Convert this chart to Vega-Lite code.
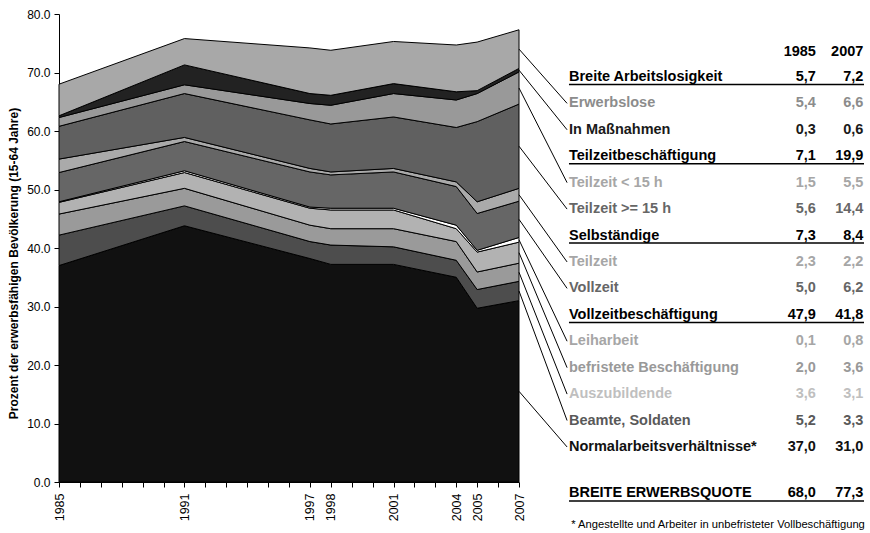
{
  "$schema": "https://vega.github.io/schema/vega-lite/v6.json",
  "width": 460,
  "height": 468,
  "autosize": {"type": "none"},
  "padding": {"left": 59, "top": 14, "right": 351, "bottom": 51},
  "background": "white",
  "config": {
    "font": "Liberation Sans",
    "view": {"stroke": null},
    "axis": {"labelFont": "Liberation Sans", "titleFont": "Liberation Sans", "labelColor": "#000", "titleColor": "#000", "domainColor": "#000", "tickColor": "#000", "grid": false, "domainWidth": 1, "tickWidth": 1, "labelFontSize": 12, "tickSize": 5, "labelPadding": 4, "labelOverlap": false},
    "axisX": {"labelOverlap": false, "labelFlush": false},
    "text": {"font": "Liberation Sans", "fontWeight": "bold", "fontSize": 14.5}
  },
  "datasets": {
    "series": [
      {"year": 1985, "cat": "Normalarbeitsverhältnisse*", "value": 37.0},
      {"year": 1991, "cat": "Normalarbeitsverhältnisse*", "value": 43.8},
      {"year": 1997, "cat": "Normalarbeitsverhältnisse*", "value": 38.2},
      {"year": 1998, "cat": "Normalarbeitsverhältnisse*", "value": 37.2},
      {"year": 2001, "cat": "Normalarbeitsverhältnisse*", "value": 37.2},
      {"year": 2004, "cat": "Normalarbeitsverhältnisse*", "value": 35.0},
      {"year": 2005, "cat": "Normalarbeitsverhältnisse*", "value": 29.7},
      {"year": 2007, "cat": "Normalarbeitsverhältnisse*", "value": 31.0},
      {"year": 1985, "cat": "Beamte, Soldaten", "value": 5.2},
      {"year": 1991, "cat": "Beamte, Soldaten", "value": 3.4},
      {"year": 1997, "cat": "Beamte, Soldaten", "value": 2.9},
      {"year": 1998, "cat": "Beamte, Soldaten", "value": 3.3},
      {"year": 2001, "cat": "Beamte, Soldaten", "value": 3.0},
      {"year": 2004, "cat": "Beamte, Soldaten", "value": 2.9},
      {"year": 2005, "cat": "Beamte, Soldaten", "value": 3.2},
      {"year": 2007, "cat": "Beamte, Soldaten", "value": 3.3},
      {"year": 1985, "cat": "Auszubildende", "value": 3.6},
      {"year": 1991, "cat": "Auszubildende", "value": 3.0},
      {"year": 1997, "cat": "Auszubildende", "value": 2.8},
      {"year": 1998, "cat": "Auszubildende", "value": 2.8},
      {"year": 2001, "cat": "Auszubildende", "value": 3.1},
      {"year": 2004, "cat": "Auszubildende", "value": 3.2},
      {"year": 2005, "cat": "Auszubildende", "value": 3.0},
      {"year": 2007, "cat": "Auszubildende", "value": 3.1},
      {"year": 1985, "cat": "befristete Beschäftigung", "value": 2.0},
      {"year": 1991, "cat": "befristete Beschäftigung", "value": 2.7},
      {"year": 1997, "cat": "befristete Beschäftigung", "value": 2.9},
      {"year": 1998, "cat": "befristete Beschäftigung", "value": 3.2},
      {"year": 2001, "cat": "befristete Beschäftigung", "value": 3.2},
      {"year": 2004, "cat": "befristete Beschäftigung", "value": 2.2},
      {"year": 2005, "cat": "befristete Beschäftigung", "value": 3.4},
      {"year": 2007, "cat": "befristete Beschäftigung", "value": 3.6},
      {"year": 1985, "cat": "Leiharbeit", "value": 0.1},
      {"year": 1991, "cat": "Leiharbeit", "value": 0.3},
      {"year": 1997, "cat": "Leiharbeit", "value": 0.2},
      {"year": 1998, "cat": "Leiharbeit", "value": 0.3},
      {"year": 2001, "cat": "Leiharbeit", "value": 0.3},
      {"year": 2004, "cat": "Leiharbeit", "value": 0.6},
      {"year": 2005, "cat": "Leiharbeit", "value": 0.3},
      {"year": 2007, "cat": "Leiharbeit", "value": 0.8},
      {"year": 1985, "cat": "Vollzeit", "value": 5.0},
      {"year": 1991, "cat": "Vollzeit", "value": 5.0},
      {"year": 1997, "cat": "Vollzeit", "value": 6.0},
      {"year": 1998, "cat": "Vollzeit", "value": 5.7},
      {"year": 2001, "cat": "Vollzeit", "value": 6.2},
      {"year": 2004, "cat": "Vollzeit", "value": 6.6},
      {"year": 2005, "cat": "Vollzeit", "value": 6.3},
      {"year": 2007, "cat": "Vollzeit", "value": 6.2},
      {"year": 1985, "cat": "Teilzeit", "value": 2.3},
      {"year": 1991, "cat": "Teilzeit", "value": 0.7},
      {"year": 1997, "cat": "Teilzeit", "value": 0.6},
      {"year": 1998, "cat": "Teilzeit", "value": 0.5},
      {"year": 2001, "cat": "Teilzeit", "value": 0.6},
      {"year": 2004, "cat": "Teilzeit", "value": 0.8},
      {"year": 2005, "cat": "Teilzeit", "value": 2.0},
      {"year": 2007, "cat": "Teilzeit", "value": 2.2},
      {"year": 1985, "cat": "Teilzeit >= 15 h", "value": 5.6},
      {"year": 1991, "cat": "Teilzeit >= 15 h", "value": 7.5},
      {"year": 1997, "cat": "Teilzeit >= 15 h", "value": 8.3},
      {"year": 1998, "cat": "Teilzeit >= 15 h", "value": 8.2},
      {"year": 2001, "cat": "Teilzeit >= 15 h", "value": 8.8},
      {"year": 2004, "cat": "Teilzeit >= 15 h", "value": 9.3},
      {"year": 2005, "cat": "Teilzeit >= 15 h", "value": 13.7},
      {"year": 2007, "cat": "Teilzeit >= 15 h", "value": 14.4},
      {"year": 1985, "cat": "Teilzeit < 15 h", "value": 1.5},
      {"year": 1991, "cat": "Teilzeit < 15 h", "value": 1.5},
      {"year": 1997, "cat": "Teilzeit < 15 h", "value": 2.8},
      {"year": 1998, "cat": "Teilzeit < 15 h", "value": 3.2},
      {"year": 2001, "cat": "Teilzeit < 15 h", "value": 4.0},
      {"year": 2004, "cat": "Teilzeit < 15 h", "value": 4.7},
      {"year": 2005, "cat": "Teilzeit < 15 h", "value": 4.8},
      {"year": 2007, "cat": "Teilzeit < 15 h", "value": 5.5},
      {"year": 1985, "cat": "In Maßnahmen", "value": 0.3},
      {"year": 1991, "cat": "In Maßnahmen", "value": 3.4},
      {"year": 1997, "cat": "In Maßnahmen", "value": 1.7},
      {"year": 1998, "cat": "In Maßnahmen", "value": 1.7},
      {"year": 2001, "cat": "In Maßnahmen", "value": 1.7},
      {"year": 2004, "cat": "In Maßnahmen", "value": 1.4},
      {"year": 2005, "cat": "In Maßnahmen", "value": 0.5},
      {"year": 2007, "cat": "In Maßnahmen", "value": 0.6},
      {"year": 1985, "cat": "Erwerbslose", "value": 5.4},
      {"year": 1991, "cat": "Erwerbslose", "value": 4.5},
      {"year": 1997, "cat": "Erwerbslose", "value": 7.8},
      {"year": 1998, "cat": "Erwerbslose", "value": 7.7},
      {"year": 2001, "cat": "Erwerbslose", "value": 7.2},
      {"year": 2004, "cat": "Erwerbslose", "value": 8.0},
      {"year": 2005, "cat": "Erwerbslose", "value": 8.3},
      {"year": 2007, "cat": "Erwerbslose", "value": 6.6}
    ],
    "table": [
      {"label": "Breite Arbeitslosigkeit", "level": "sum", "row": 1, "v85": 5.7, "v07": 7.2},
      {"label": "Erwerbslose", "level": "part", "row": 2, "v85": 5.4, "v07": 6.6},
      {"label": "In Maßnahmen", "level": "part", "row": 3, "v85": 0.3, "v07": 0.6},
      {"label": "Teilzeitbeschäftigung", "level": "sum", "row": 4, "v85": 7.1, "v07": 19.9},
      {"label": "Teilzeit < 15 h", "level": "part", "row": 5, "v85": 1.5, "v07": 5.5},
      {"label": "Teilzeit >= 15 h", "level": "part", "row": 6, "v85": 5.6, "v07": 14.4},
      {"label": "Selbständige", "level": "sum", "row": 7, "v85": 7.3, "v07": 8.4},
      {"label": "Teilzeit", "level": "part", "row": 8, "v85": 2.3, "v07": 2.2},
      {"label": "Vollzeit", "level": "part", "row": 9, "v85": 5.0, "v07": 6.2},
      {"label": "Vollzeitbeschäftigung", "level": "sum", "row": 10, "v85": 47.9, "v07": 41.8},
      {"label": "Leiharbeit", "level": "part", "row": 11, "v85": 0.1, "v07": 0.8},
      {"label": "befristete Beschäftigung", "level": "part", "row": 12, "v85": 2.0, "v07": 3.6},
      {"label": "Auszubildende", "level": "part", "row": 13, "v85": 3.6, "v07": 3.1},
      {"label": "Beamte, Soldaten", "level": "part", "row": 14, "v85": 5.2, "v07": 3.3},
      {"label": "Normalarbeitsverhältnisse*", "level": "part", "row": 15, "v85": 37.0, "v07": 31.0},
      {"label": "BREITE ERWERBSQUOTE", "level": "total", "row": 16.76, "v85": 68.0, "v07": 77.3}
    ]
  },
  "layer": [
    {
      "data": {"name": "series"},
      "transform": [
        {"lookup": "cat", "from": {"data": {"name": "table"}, "key": "label", "fields": ["row"]}}
      ],
      "mark": {"type": "area", "stroke": "#000", "strokeWidth": 1, "opacity": 1},
      "encoding": {
        "x": {"field": "year", "type": "quantitative",
          "scale": {"domain": [1985, 2007], "nice": false, "zero": false},
          "axis": {"title": "", "values": [1985,1986,1987,1988,1989,1990,1991,1992,1993,1994,1995,1996,1997,1998,1999,2000,2001,2002,2003,2004,2005,2006,2007],
            "tickCount": 100, "format": "d", "labelAngle": 270, "labelOverlap": false, "labelFlush": false, "labelPadding": 6, "labelFontSize": 12.5,
            "labelExpr": "indexof([1985,1991,1997,1998,2001,2004,2005,2007], datum.value) >= 0 ? datum.label : ''"}},
        "y": {"field": "value", "type": "quantitative", "stack": "zero",
          "scale": {"domain": [0, 80], "nice": false},
          "axis": {"title": "Prozent der erwerbsfähigen Bevölkerung (15-64 Jahre)", "values": [0,10,20,30,40,50,60,70,80], "tickCount": 20, "format": ".1f",
            "titleFontSize": 12, "titleFontWeight": "bold", "titlePadding": 6, "titleY": 249, "labelOverlap": false}},
        "color": {"field": "cat", "type": "nominal", "legend": null,
          "scale": {"domain": ["Normalarbeitsverhältnisse*", "Beamte, Soldaten", "Auszubildende", "befristete Beschäftigung", "Leiharbeit", "Vollzeit", "Teilzeit", "Teilzeit >= 15 h", "Teilzeit < 15 h", "In Maßnahmen", "Erwerbslose"],
            "range": ["#111111", "#4d4d4d", "#9a9a9a", "#b2b2b2", "#ffffff", "#666666", "#aaaaaa", "#606060", "#999999", "#222222", "#a8a8a8"]}},
        "order": {"field": "row", "sort": "descending"}
      }
    },
    {
      "data": {"name": "series"},
      "transform": [
        {"filter": "datum.year == 2007"},
        {"lookup": "cat", "from": {"data": {"name": "table"}, "key": "label", "fields": ["row"]}},
        {"stack": "value", "groupby": ["year"], "sort": [{"field": "row", "order": "descending"}], "as": ["s0", "s1"]},
        {"calculate": "(datum.s0 + datum.s1) / 2", "as": "mid"},
        {"calculate": "73.76 - 4.518 * datum.row", "as": "yt"}
      ],
      "mark": {"type": "rule", "color": "#000", "strokeWidth": 1},
      "encoding": {
        "x": {"datum": 2007, "type": "quantitative"},
        "x2": {"datum": 2009.3},
        "y": {"field": "mid", "type": "quantitative"},
        "y2": {"field": "yt"}
      }
    },
    {
      "data": {"name": "table"},
      "transform": [
        {"filter": "datum.level != 'part'"},
        {"calculate": "73.76 - 4.518 * datum.row - 1.3", "as": "yu"}
      ],
      "mark": {"type": "rule", "color": "#000", "strokeWidth": 1.5},
      "encoding": {
        "x": {"datum": 2009.39, "type": "quantitative"},
        "x2": {"datum": 2023.5},
        "y": {"field": "yu", "type": "quantitative"}
      }
    },
    {
      "data": {"name": "table"},
      "transform": [
        {"calculate": "73.76 - 4.518 * datum.row", "as": "yt"},
        {"calculate": "replace(format(datum.v85, '.1f'), '.', ',')", "as": "t85"},
        {"calculate": "replace(format(datum.v07, '.1f'), '.', ',')", "as": "t07"}
      ],
      "encoding": {
        "y": {"field": "yt", "type": "quantitative"},
        "color": {"field": "label", "type": "nominal", "legend": null,
          "scale": {"domain": ["Breite Arbeitslosigkeit", "Erwerbslose", "In Maßnahmen", "Teilzeitbeschäftigung", "Teilzeit < 15 h", "Teilzeit >= 15 h", "Selbständige", "Teilzeit", "Vollzeit", "Vollzeitbeschäftigung", "Leiharbeit", "befristete Beschäftigung", "Auszubildende", "Beamte, Soldaten", "Normalarbeitsverhältnisse*", "BREITE ERWERBSQUOTE"],
            "range": ["#000000", "#8c8c8c", "#1a1a1a", "#000000", "#a6a6a6", "#666666", "#000000", "#a6a6a6", "#666666", "#000000", "#a6a6a6", "#999999", "#bfbfbf", "#595959", "#111111", "#000000"]}}
      },
      "layer": [
        {"mark": {"type": "text", "align": "left", "baseline": "middle"},
         "encoding": {"x": {"datum": 2009.39, "type": "quantitative"}, "text": {"field": "label"}}},
        {"mark": {"type": "text", "align": "right", "baseline": "middle"},
         "encoding": {"x": {"datum": 2021.2, "type": "quantitative"}, "text": {"field": "t85"}}},
        {"mark": {"type": "text", "align": "right", "baseline": "middle"},
         "encoding": {"x": {"datum": 2023.47, "type": "quantitative"}, "text": {"field": "t07"}}}
      ]
    },
    {
      "data": {"values": [{"col": "1985", "at": 2021.2}, {"col": "2007", "at": 2023.47}]},
      "mark": {"type": "text", "align": "right", "baseline": "middle", "color": "#000"},
      "encoding": {
        "x": {"field": "at", "type": "quantitative"},
        "y": {"datum": 73.5, "type": "quantitative"},
        "text": {"field": "col"}
      }
    },
    {
      "data": {"values": [{"note": "*  Angestellte und Arbeiter in unbefristeter Vollbeschäftigung"}]},
      "mark": {"type": "text", "align": "left", "baseline": "middle", "color": "#000", "fontWeight": "normal", "fontSize": 11.2},
      "encoding": {
        "x": {"datum": 2009.5, "type": "quantitative"},
        "y": {"datum": -7.4, "type": "quantitative"},
        "text": {"field": "note"}
      }
    }
  ],
  "resolve": {"scale": {"color": "independent"}}
}
